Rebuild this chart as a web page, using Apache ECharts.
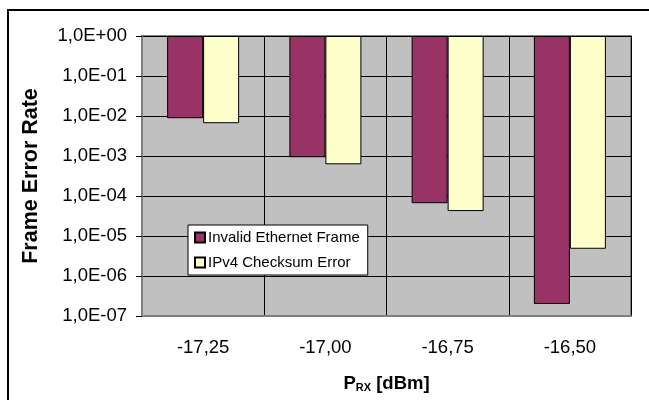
<!DOCTYPE html>
<html>
<head>
<meta charset="utf-8">
<script src="https://cdn.jsdelivr.net/npm/echarts@6/dist/echarts.min.js"></script>
<style>html,body{margin:0;padding:0;background:#fff}#c{width:649px;height:400px}</style>
</head>
<body>
<div id="c"></div>
<script>
var categories = ['-17,25', '-17,00', '-16,75', '-16,50'];
var seriesNames = ['Invalid Ethernet Frame', 'IPv4 Checksum Error'];
var invalidEthernetFrame = [8.8e-3, 9.3e-4, 6.6e-5, 2.0e-7];
var ipv4ChecksumError = [6.6e-3, 6.2e-4, 4.2e-5, 4.8e-6];
var yAxisTitle = 'Frame Error Rate';

function fmtExp(v) {
  var e = Math.round(Math.log10(v));
  var s = e < 0 ? '-' : '+';
  var a = Math.abs(e);
  return '1,0E' + s + (a < 10 ? '0' + a : '' + a);
}

var chart = echarts.init(document.getElementById('c'), null, {renderer: 'canvas'});
chart.setOption({
  animation: false,
  backgroundColor: '#ffffff',
  textStyle: {fontFamily: 'Liberation Sans, Arial, sans-serif'},
  graphic: [{
    type: 'rect',
    shape: {x: 8, y: 10, width: 700, height: 500},
    style: {fill: 'none', stroke: '#000', lineWidth: 2},
    silent: true, z: -1
  }],
  grid: {
    left: 142, right: 18, top: 36, bottom: 84,
    show: true, backgroundColor: '#C0C0C0', borderColor: '#808080', borderWidth: 2
  },
  legend: {
    orient: 'vertical',
    left: 188, top: 225,
    data: seriesNames,
    icon: 'rect',
    itemWidth: 10, itemHeight: 10, itemGap: 10,
    backgroundColor: '#ffffff',
    borderColor: '#000', borderWidth: 1,
    padding: [5, 8, 5, 6],
    textStyle: {fontSize: 15, color: '#000', fontFamily: 'Liberation Sans, Arial, sans-serif', padding: [0, 0, 0, -2]}
  },
  xAxis: {
    type: 'category',
    data: categories,
    boundaryGap: true,
    axisLine: {show: true, lineStyle: {color: '#808080', width: 2}},
    axisTick: {show: false},
    axisLabel: {fontSize: 18.5, color: '#000', margin: 22},
    splitLine: {show: true, interval: 0, lineStyle: {color: '#000', width: 1}},
    name: '{p|P}{s|RX}{p| [dBm]}',
    nameLocation: 'middle',
    nameGap: 58,
    nameTextStyle: {
      rich: {
        p: {fontSize: 18.5, fontWeight: 'bold', color: '#000'},
        s: {fontSize: 11, fontWeight: 'bold', color: '#000', verticalAlign: 'bottom', padding: [8, 0, 0, 0]}
      }
    }
  },
  yAxis: {
    type: 'log',
    logBase: 10,
    min: 1e-7,
    max: 1,
    axisLine: {show: true, lineStyle: {color: '#808080', width: 2}},
    axisTick: {show: true, length: 6, inside: false, lineStyle: {color: '#000', width: 1}},
    axisLabel: {fontSize: 18.5, color: '#000', margin: 15, formatter: fmtExp},
    splitLine: {show: true, lineStyle: {color: '#000', width: 1}},
    name: yAxisTitle,
    nameLocation: 'middle',
    nameGap: 100,
    nameTextStyle: {fontSize: 21.5, fontWeight: 'bold', color: '#000'}
  },
  series: [
    {
      name: seriesNames[0], type: 'bar', data: invalidEthernetFrame,
      barWidth: 36, barGap: '0%',
      itemStyle: {color: '#993366', borderColor: '#000', borderWidth: 1}
    },
    {
      name: seriesNames[1], type: 'bar', data: ipv4ChecksumError,
      barWidth: 36,
      itemStyle: {color: '#FFFFCC', borderColor: '#000', borderWidth: 1}
    }
  ]
});
</script>
</body>
</html>
